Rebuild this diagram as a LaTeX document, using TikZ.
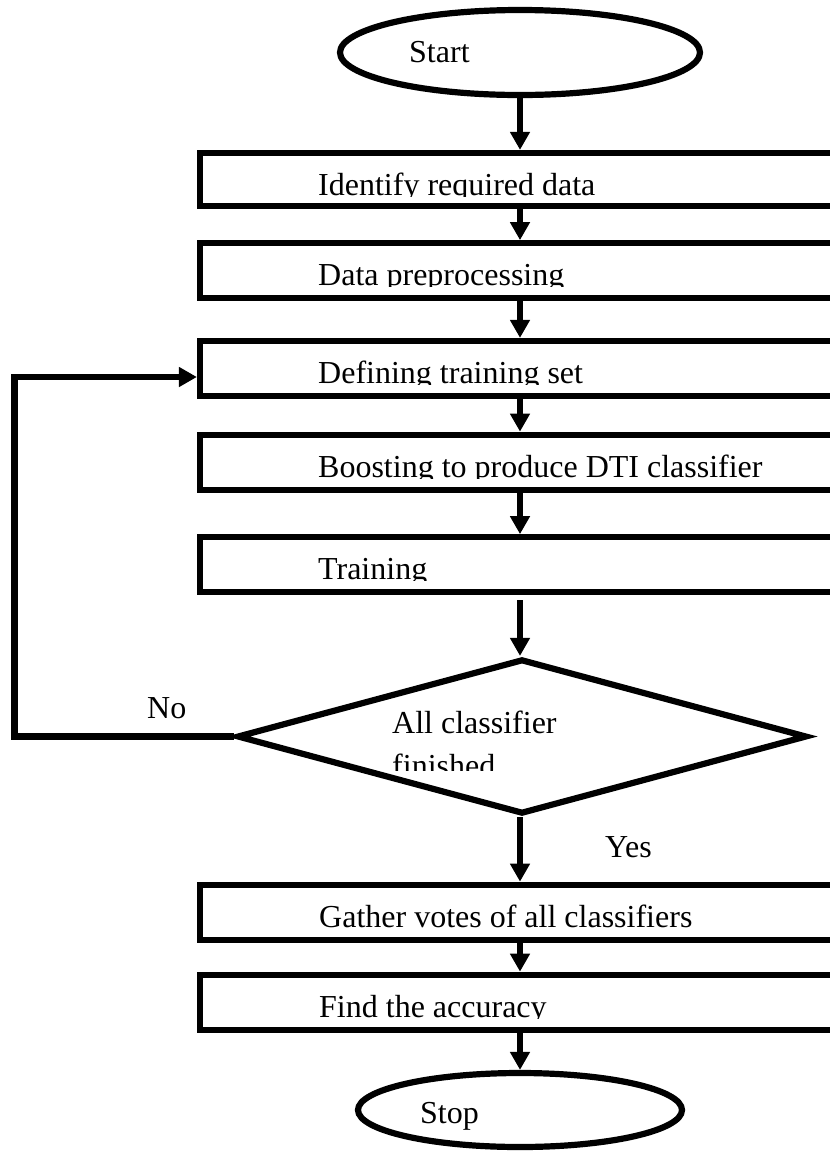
\documentclass[tikz,border=0pt]{standalone}
\usepackage{fontspec}
\setmainfont{Liberation Serif}
\usetikzlibrary{arrows.meta,shapes.geometric}

% label clipped below at a given height: name, x, baseline, clip y, text
\newcommand{\flowtext}[5]{%
  \begin{scope}
    \clip (#2-10,#3-45) rectangle (900,#4);
    \node[lbl,anchor=base west] (#1) at (#2,#3) {#5};
  \end{scope}}

\begin{document}
\begin{tikzpicture}[x=1pt,y=-1pt,
  stroke/.style={line width=6.2pt},
  stepbox/.style={draw,stroke,rectangle,minimum width=640pt,minimum height=55pt,inner sep=0pt},
  term/.style={draw,stroke,ellipse,inner sep=0pt},
  decision/.style={draw,stroke,diamond,inner sep=0pt,minimum width=570pt,minimum height=155pt},
  flow/.style={stroke,-{Triangle[length=18pt,width=19pt]}},
  lbl/.style={inner sep=0pt,font=\fontsize{32}{38}\selectfont}]

\fill[white] (0,0) rectangle (830,1152);
\useasboundingbox (0,0) rectangle (830,1152);
\clip (0,0) rectangle (830,1152);

% shapes
\node[term,minimum width=360pt,minimum height=85pt] (start) at (520,52.5) {};
\node[stepbox,minimum height=53pt] (b1) at (520,179.5) {};
\node[stepbox] (b2) at (520,270.75) {};
\node[stepbox] (b3) at (520,368.5) {};
\node[stepbox] (b4) at (520,462.25) {};
\node[stepbox] (b5) at (520,564.75) {};
\node[decision] (dec) at (522,736.5) {};
\node[stepbox] (b6) at (520,912.25) {};
\node[stepbox] (b7) at (520,1002.25) {};
\node[term,minimum width=324pt,minimum height=74pt] (stop) at (520,1110) {};

% labels
\node[lbl,anchor=base west] (tstart) at (409,62) {Start};
\flowtext{t1}{318}{195}{196.5}{Identify required data}
\flowtext{t2}{318}{285}{286.5}{Data preprocessing}
\flowtext{t3}{318}{383}{384.5}{Defining training set}
\flowtext{t4}{318}{477}{478.5}{Boosting to produce DTI classifier}
\flowtext{t5}{318}{579}{580.5}{Training}
\node[lbl,anchor=base west] (d1) at (392,733) {All classifier};
\flowtext{d2}{392}{776}{770}{finished}
\node[lbl,anchor=base west] (tno) at (147,718) {No};
\node[lbl,anchor=base west] (tyes) at (605,857) {Yes};
\flowtext{t6}{319}{927}{928.5}{Gather votes of all classifiers}
\flowtext{t7}{319}{1017}{1018.5}{Find the accuracy}
\node[lbl,anchor=base west] (tstop) at (420,1123) {Stop};

% connectors
\coordinate (loopx) at (14.5,0);
\coordinate (entry) at ([yshift=-8.5pt]b3.west);
\draw[flow] (start.south) -- (b1.north);
\draw[flow] (b1.south) -- (b2.north);
\draw[flow] (b2.south) -- (b3.north);
\draw[flow] (b3.south) -- (b4.north);
\draw[flow] (b4.south) -- (b5.north);
\draw[flow] ([yshift=-5pt]b5.south) -- (b5.south |- dec.north);
\draw[flow] (b5.south |- dec.south) -- (b6.north);
\draw[flow] (b6.south) -- (b7.north);
\draw[flow] (b7.south) -- (stop.north);
\draw[flow] (dec.west) -- (dec.west -| loopx) -- (entry -| loopx) -- (entry);
\end{tikzpicture}
\end{document}
